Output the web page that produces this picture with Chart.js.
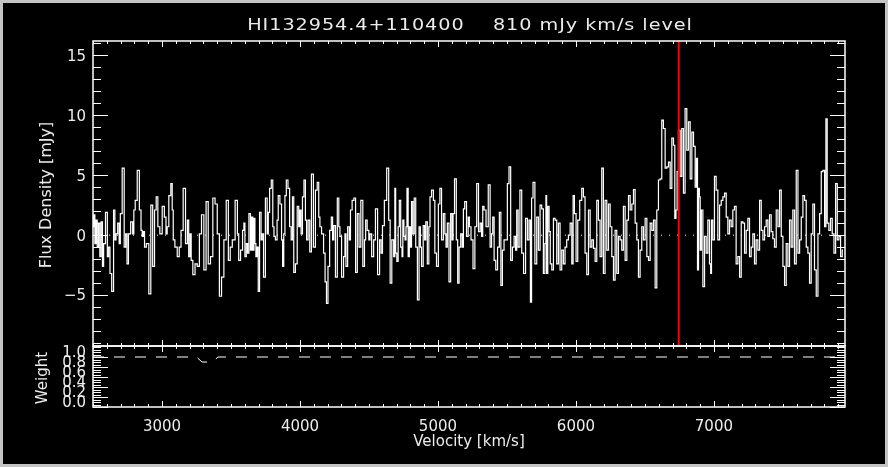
<!DOCTYPE html>
<html>
<head>
<meta charset="utf-8">
<script src="https://cdn.jsdelivr.net/npm/chart.js@4.4.1/dist/chart.umd.min.js"></script>
<style>
html, body { margin: 0; padding: 0; }
body { width: 888px; height: 467px; background: #c4c4c4; position: relative; overflow: hidden; }
#frame { position: absolute; left: 3px; top: 3px; width: 882px; height: 461px; background: #000; }
canvas { position: absolute; left: 0; top: 0; }
</style>
</head>
<body>
<div id="frame"></div>
<canvas id="specChart" width="888" height="467"></canvas>
<canvas id="weightChart" width="888" height="467"></canvas>
<script>
// ---------- data ----------
const titleText = "HI132954.4+110400    810 mJy km/s level";

// channel velocities (km/s)
const velocity = [
  2500, 2510, 2517, 2527, 2534, 2546, 2553, 2565, 2572, 2582,
  2599, 2609, 2618, 2628, 2643, 2655, 2662, 2672, 2686, 2693,
  2703, 2720, 2732, 2742, 2751, 2763, 2783, 2792, 2800, 2812,
  2829, 2843, 2853, 2860, 2870, 2877, 2896, 2913, 2925, 2940,
  2952, 2964, 2976, 2993, 3010, 3024, 3034, 3041, 3058, 3070,
  3078, 3085, 3102, 3119, 3131, 3145, 3162, 3179, 3189, 3198,
  3208, 3215, 3232, 3247, 3264, 3278, 3295, 3312, 3327, 3343,
  3360, 3377, 3392, 3409, 3423, 3440, 3457, 3474, 3488, 3501,
  3518, 3542, 3551, 3561, 3578, 3590,
  3597, 3605, 3617, 3624, 3636, 3646, 3653, 3663, 3670, 3677,
  3684, 3694, 3701, 3713, 3723, 3730, 3742, 3757, 3767, 3774,
  3786, 3798, 3808, 3815, 3829, 3839, 3846, 3863, 3870, 3878,
  3887, 3895, 3907, 3919, 3931, 3941, 3950, 3960, 3974, 3986,
  3996, 4003, 4013, 4023, 4035, 4044, 4052, 4066, 4076, 4090,
  4105, 4119, 4131, 4141, 4148, 4165, 4177, 4187, 4197, 4209,
  4221, 4233, 4240, 4250, 4264, 4277, 4286, 4293, 4310, 4322,
  4330, 4337, 4354, 4361, 4371, 4385, 4397, 4409, 4422, 4434,
  4448, 4463, 4472, 4480, 4494, 4504, 4511, 4528, 4540, 4554,
  4571, 4583, 4593, 4603, 4620, 4637, 4649, 4658, 4673, 4685,
  4690, 4697, 4707, 4716, 4724, 4736, 4743, 4748, 4758, 4765,
  4772, 4779, 4789, 4796, 4804, 4813, 4823, 4833, 4845, 4857,
  4869, 4876, 4886, 4900, 4907, 4917, 4929, 4939, 4946, 4961,
  4973, 4982, 4997, 5009, 5019, 5033, 5045, 5055, 5062, 5074,
  5086, 5098, 5106, 5113, 5127, 5139, 5147, 5159, 5171, 5181,
  5188, 5200, 5214, 5224, 5231, 5248, 5260, 5275, 5287, 5301,
  5311, 5321, 5328, 5340, 5357, 5372, 5384, 5393, 5401, 5413,
  5425, 5439, 5451, 5461, 5473, 5485, 5497, 5509, 5521, 5533,
  5546, 5558, 5567, 5575, 5587, 5601, 5613, 5628, 5642, 5654,
  5666, 5674, 5683, 5695, 5710, 5722, 5734, 5746, 5758, 5770,
  5780,
  5785, 5790, 5802, 5809, 5819, 5831, 5843, 5855, 5867, 5879,
  5891, 5903, 5915, 5927, 5939, 5952, 5964, 5976, 5983, 5995,
  6007, 6019, 6036, 6048, 6060, 6072, 6085, 6097, 6109, 6121,
  6133, 6145, 6157, 6169, 6181, 6193, 6205, 6217, 6230, 6242,
  6254, 6266, 6278, 6290, 6302, 6314, 6326, 6338, 6350, 6363,
  6375, 6387, 6399, 6411, 6423, 6435, 6447, 6459, 6471, 6483,
  6495, 6508, 6520, 6532, 6544, 6556, 6568, 6580, 6592, 6604,
  6616, 6628, 6640, 6653, 6665, 6677, 6689, 6701, 6713, 6720,
  6730, 6737, 6749, 6761, 6773, 6785, 6797, 6810, 6822, 6834,
  6846, 6858, 6870,
  6877, 6885, 6892, 6897, 6904, 6914, 6926, 6938, 6950, 6962,
  6974, 6979, 6986, 6998, 7010, 7022, 7035, 7047, 7059, 7071,
  7083, 7095, 7107, 7119, 7131, 7143, 7155, 7167, 7180, 7192,
  7204, 7216, 7228, 7240, 7252, 7264, 7276, 7288, 7300, 7312,
  7325, 7337, 7349, 7361, 7373, 7385, 7397, 7409, 7421, 7433,
  7445, 7458, 7470, 7482, 7494, 7506, 7518, 7530, 7542, 7554,
  7566, 7578, 7590, 7603, 7615, 7627, 7639, 7651, 7663, 7675,
  7687, 7699, 7711, 7723, 7735, 7748, 7760, 7772, 7784, 7796,
  7808, 7815, 7827, 7839, 7851, 7864, 7876, 7888, 7900, 7912,
  7924, 7936
];

// flux density (mJy)
const flux = [
  0.7, 1.7, -0.7, 1.25, -1.0, 1.0, -1.8, 1.1, -2.6, -0.7,
  1.9, -1.8, -1.0, -3.2, -4.7, 2.1, -0.4, 0.1, 1.0, -0.7,
  1.8, 5.6, -1.0, 0.1, -2.4, 0.1, 1.1, 0.1, 2.1, 2.9,
  5.4, 2.1, 0.4, -0.1, 0.3, -1.0, -0.7, -4.9, 2.5, -2.6,
  2.1, 3.2, 0.7, 0.1, 2.4, 1.5, 0.1, 0.7, 3.3, 4.3,
  2.1, -0.4, -1.0, -1.8, -1.0, 0.4, 3.9, -0.7, 1.25, -1.8,
  0.1, -2.1, -3.3, -2.4, -2.6, 0.1, 1.7, -2.9, 2.8, -2.4,
  -1.8, 3.1, 2.6, 0.1, -5.1, -3.5, -0.4, 2.9, -2.1, -1.0,
  -0.4, 2.9, 0.1, -2.1, -1.25, 0.4,
  1.0, -1.8, -0.7, -1.5, 1.8, -1.25, 1.5, -1.25, 1.4, -0.7,
  -1.8, -1.0, -4.7, 1.9, -0.4, 0.1, -3.5, 3.1, 0.1, 1.9,
  3.9, 4.6, 0.7, -0.1, -0.4, 1.25, 3.3, 2.6, -0.4, -2.6,
  0.1, 3.3, 4.6, 3.9, 0.7, -0.4, 3.2, -3.1, -2.4, 2.4,
  0.7, 2.1, 0.1, 3.2, 4.6, 1.25, -0.4, 1.25, -1.4, 5.1,
  -1.0, 3.75, 4.4, 1.5, 0.7, 0.1, -1.5, -3.9, -5.7, -2.6,
  0.4, 1.5, -0.4, 0.8, -3.5, 3.1, 0.7, -0.1, -3.5, -1.8,
  0.1, -2.6, 0.7, -0.4, 2.1, 2.9, 3.1, -3.1, 1.8, -1.0,
  2.9, -2.6, -0.4, 1.25, 0.4, -0.4, 0.1, -1.8, -0.4, 2.2,
  -3.3, -0.4, -1.5, 0.8, 2.9, 5.6, 1.25, -4.0, -0.4, -1.8,
  3.9, -1.5, -2.2, 0.7, 2.9, -1.0, -1.8, 1.25, -0.1, -0.4,
  0.7, 3.9, -1.8, 0.7, -1.0, 2.8, 0.1, 3.1, -1.0, -5.4,
  0.7, -1.0, -2.6, 0.8, -0.4, 1.1, -2.4, 0.7, 3.2, 3.75,
  2.9, -1.5, -2.6, 2.6, 3.9, -0.4, 1.8, 0.1, -1.0, 1.0,
  -3.9, 1.8, -0.4, 1.8, 4.7, -0.4, -4.0, -1.0, 0.1, -1.0,
  2.2, 2.8, -0.1, 1.5, 0.7, -0.4, -2.8, 0.7, 4.3, 0.3,
  1.0, -0.1, 2.4, 2.1, 0.7, 4.2, -1.0, 0.1, 1.5, -2.1,
  -2.9, -1.0, 1.9, -4.2, -1.25, -0.4, -0.4, 4.3, 5.7, -2.1,
  -1.0, -0.1, -1.25, 2.1, -1.0, 3.75, -1.5, -3.2, 1.4, -0.4,
  1.25, -5.6, 3.1, 4.4, -2.4, 1.5, -1.25, 2.5, 2.2, -3.2,
  -0.7,
  3.3, -3.2, 2.4, 0.3, -2.4, -2.9, 1.4, 1.25, -2.4, 1.0,
  -2.9, -1.25, -2.4, -1.0, -0.4, 0.0, 1.0, -2.4, 3.3, 1.8,
  -2.2, 1.25, 2.9, 3.9, 3.2, -1.5, -3.3, 2.1, -1.0, -0.4,
  -1.1, -2.2, 2.9, 1.25, -1.8, 5.6, -3.2, 2.9, -1.25, 2.6,
  0.7, -1.8, -3.75, 0.4, -3.2, -0.1, -0.4, -1.25, 2.4, -2.1,
  1.25, 3.3, 2.1, 2.6, 3.8, 1.0, -0.4, -3.5, -1.25, 0.7,
  -0.4, 1.4, -1.8, -2.1, 1.0, 0.4, 1.25, -4.4, 2.1, 4.6,
  4.7, 9.6, 8.9, 5.6, 5.7, 6.1, 3.9, 8.1, 7.5, 1.4,
  2.1, 5.3, 8.75, 4.9, 8.9, 3.5, 10.55, 7.1, 9.45, 4.7,
  8.6, 7.4, 4.0,
  6.4, -2.9, 3.9, 3.2, -1.25, 2.1, -4.3, -0.1, -1.5, 1.25,
  -2.4, -3.2, 1.25, -0.4, 4.9, 3.75, -0.4, 2.5, 2.9, 3.2,
  3.5, 1.5, 0.1, 1.25, 0.7, 2.1, 2.4, -2.4, -1.8, -3.5,
  1.1, 1.0, -1.5, 0.4, 1.4, -1.8, -1.0, 0.1, -2.4, -0.4,
  -1.25, 2.9, 0.4, -0.4, 0.7, 1.25, -0.1, 1.7, 0.3, -0.3,
  -1.0, 2.1, 0.7, 3.75, -0.1, -2.6, -4.2, -0.7, -2.6, 1.25,
  -1.0, 2.1, -2.4, 5.4, -1.5, -0.4, 1.5, 3.3, 2.9, -1.0,
  -1.5, -4.0, 0.1, 2.6, -2.9, -5.1, 0.1, 1.8, 5.3, 5.4,
  0.7, 9.7, 1.0, 0.4, 1.4, 0.1, -1.5, 4.3, -0.4, -0.1,
  -1.8, -1.25
];

// weight spectrum
const weightVel = [2500, 3250, 3290, 3370, 3405, 7950];
const weightVal = [1.0, 1.0, 0.9, 0.9, 1.0, 1.0];

// red marker (galaxy velocity)
const markerVel = 6745;

// axis ranges and tick labels
const velRange = [2500, 7950];
const fluxRange = [-9.25, 16.2];
const weightRange = [0, 1.22];
const velTicks = [3000, 4000, 5000, 6000, 7000];
const fluxTicks = [-5, 0, 5, 10, 15];
const weightTicks = [0.0, 0.2, 0.4, 0.6, 0.8, 1.0];

// ---------- IDL style axes ----------
const FONT = '"DejaVu Sans", sans-serif';
const TEXT = '#ececec';

function drawBoxAndXTicks(chart) {
  const ctx = chart.ctx, a = chart.chartArea, xs = chart.scales.x;
  ctx.strokeStyle = '#fff';
  ctx.lineWidth = 1.5;
  ctx.strokeRect(a.left, a.top, a.right - a.left, a.bottom - a.top);
  ctx.lineWidth = 1;
  ctx.beginPath();
  for (let v = 2500; v <= velRange[1]; v += 100) {
    const px = Math.round(xs.getPixelForValue(v)) + 0.5;
    const len = v % 1000 === 0 ? 6 : 3;
    ctx.moveTo(px, a.bottom); ctx.lineTo(px, a.bottom - len);
    ctx.moveTo(px, a.top); ctx.lineTo(px, a.top + len);
  }
  ctx.stroke();
}

function drawYTicks(chart, vals, isMajor) {
  const ctx = chart.ctx, a = chart.chartArea, ys = chart.scales.y;
  ctx.beginPath();
  vals.forEach((v, i) => {
    const py = Math.round(ys.getPixelForValue(v)) + 0.5;
    const len = isMajor(i) ? 15 : 8;
    ctx.moveTo(a.left, py); ctx.lineTo(a.left + len, py);
    ctx.moveTo(a.right, py); ctx.lineTo(a.right - len, py);
  });
  ctx.stroke();
}

const specAxes = {
  id: 'specAxes',
  afterDraw(chart) {
    const ctx = chart.ctx, a = chart.chartArea, ys = chart.scales.y;
    ctx.save();
    drawBoxAndXTicks(chart);
    const minor = [];
    for (let k = -9; k <= 16; k++) minor.push(k);
    drawYTicks(chart, minor, i => minor[i] % 5 === 0);

    ctx.fillStyle = TEXT;
    ctx.font = '15px ' + FONT;
    ctx.textAlign = 'right';
    ctx.textBaseline = 'middle';
    fluxTicks.forEach(v => {
      const label = v < 0 ? '\u2212' + Math.abs(v) : String(v);
      ctx.fillText(label, 86, ys.getPixelForValue(v) + 1.5);
    });

    // title, stretched to the wide plotter font
    ctx.save();
    ctx.textAlign = 'center';
    ctx.font = '16px ' + FONT;
    ctx.translate((a.left + a.right) / 2 + 1, 26);
    ctx.scale(1.2, 1);
    ctx.letterSpacing = '0.8px';
    ctx.fillText(titleText, 0, 0);
    ctx.restore();

    // y title
    ctx.save();
    ctx.textAlign = 'center';
    ctx.translate(47, 195);
    ctx.rotate(-Math.PI / 2);
    ctx.font = '16px ' + FONT;
    ctx.fillText('Flux Density [mJy]', 0, 0);
    ctx.restore();
    ctx.restore();
  }
};

const weightAxes = {
  id: 'weightAxes',
  afterDraw(chart) {
    const ctx = chart.ctx, a = chart.chartArea, xs = chart.scales.x, ys = chart.scales.y;
    ctx.save();
    drawBoxAndXTicks(chart);
    const minor = [];
    for (let k = 0; k <= 24; k++) minor.push(k * 0.05);
    drawYTicks(chart, minor, i => i % 4 === 0 && i <= 20);

    ctx.fillStyle = TEXT;
    ctx.font = '15px ' + FONT;
    ctx.textAlign = 'right';
    ctx.textBaseline = 'middle';
    weightTicks.forEach(v => ctx.fillText(v.toFixed(1), 86, ys.getPixelForValue(v) - 4));

    ctx.textAlign = 'center';
    velTicks.forEach(v => ctx.fillText(String(v), xs.getPixelForValue(v), 427));
    ctx.fillText('Velocity [km/s]', (a.left + a.right) / 2, 442);

    ctx.save();
    ctx.translate(43, 378);
    ctx.rotate(-Math.PI / 2);
    ctx.fillText('Weight', 0, 0);
    ctx.restore();
    ctx.restore();
  }
};

const baseOptions = (padding, yRange) => ({
  responsive: false,
  animation: false,
  events: [],
  layout: { padding: padding },
  plugins: { legend: { display: false }, tooltip: { enabled: false }, title: { display: false } },
  scales: {
    x: { type: 'linear', min: velRange[0], max: velRange[1], display: false },
    y: { type: 'linear', min: yRange[0], max: yRange[1], display: false }
  }
});

// ---------- spectrum panel ----------
new Chart(document.getElementById('specChart'), {
  type: 'line',
  data: {
    datasets: [
      {
        data: [{ x: markerVel, y: fluxRange[0] }, { x: markerVel, y: fluxRange[1] }],
        borderColor: '#ff0000', borderWidth: 2, pointRadius: 0
      },
      {
        data: velocity.map((v, i) => ({ x: v, y: flux[i] })),
        borderColor: '#ffffff', borderWidth: 1.2, pointRadius: 0, stepped: 'middle'
      },
      {
        data: [{ x: velRange[0], y: 0 }, { x: velRange[1], y: 0 }],
        borderColor: '#ffffff', borderWidth: 1, borderDash: [1, 7], pointRadius: 0
      }
    ]
  },
  options: baseOptions({ left: 93, top: 41, right: 43, bottom: 121 }, fluxRange),
  plugins: [specAxes]
});

// ---------- weight panel ----------
new Chart(document.getElementById('weightChart'), {
  type: 'line',
  data: {
    datasets: [{
      data: weightVel.map((v, i) => ({ x: v, y: weightVal[i] })),
      borderColor: '#ffffff', borderWidth: 1, borderDash: [11, 10], pointRadius: 0
    }]
  },
  options: baseOptions({ left: 93, top: 346, right: 43, bottom: 60 }, weightRange),
  plugins: [weightAxes]
});
</script>
</body>
</html>
